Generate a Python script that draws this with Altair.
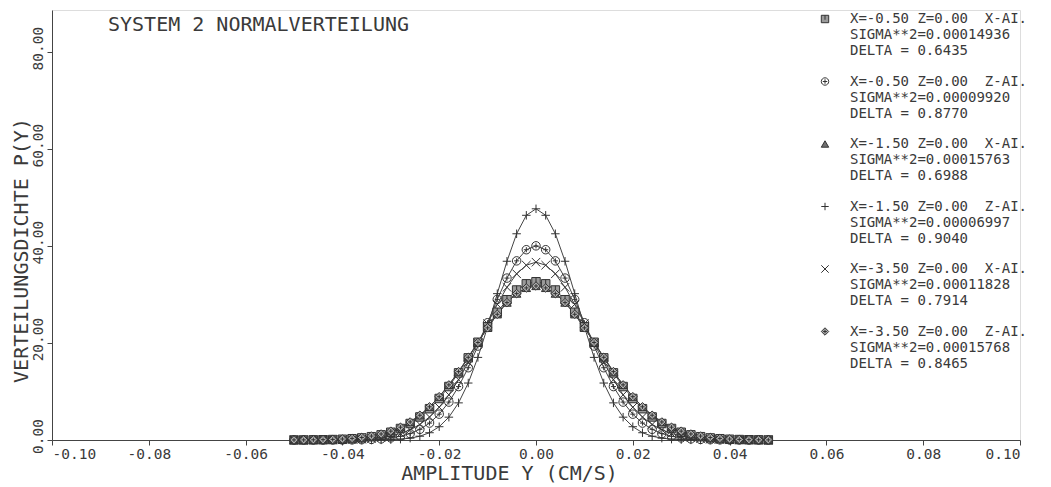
import altair as alt
import pandas as pd

# x positions of the sampled points (CM/S)
x_vals = [-0.050, -0.048, -0.046, -0.044, -0.042, -0.040, -0.038, -0.036, -0.034, -0.032,
          -0.030, -0.028, -0.026, -0.024, -0.022, -0.020, -0.018, -0.016, -0.014, -0.012,
          -0.010, -0.008, -0.006, -0.004, -0.002, 0.000, 0.002, 0.004, 0.006, 0.008,
          0.010, 0.012, 0.014, 0.016, 0.018, 0.020, 0.022, 0.024, 0.026, 0.028,
          0.030, 0.032, 0.034, 0.036, 0.038, 0.040, 0.042, 0.044, 0.046, 0.048]

s1 = [0.01, 0.01, 0.03, 0.05, 0.09, 0.15, 0.26, 0.43, 0.68, 1.06, 1.60, 2.37, 3.40, 4.75, 6.46,
      8.56, 11.03, 13.85, 16.94, 20.16, 23.35, 26.35, 28.93, 30.94, 32.21, 32.64, 32.21, 30.94,
      28.93, 26.35, 23.35, 20.16, 16.94, 13.85, 11.03, 8.56, 6.46, 4.75, 3.40, 2.37, 1.60, 1.06,
      0.68, 0.43, 0.26, 0.15, 0.09, 0.05, 0.03, 0.01]
s2 = [0.00, 0.00, 0.00, 0.00, 0.01, 0.01, 0.03, 0.06, 0.12, 0.23, 0.43, 0.77, 1.33, 2.20, 3.49,
      5.33, 7.82, 11.02, 14.91, 19.38, 24.19, 29.01, 33.40, 36.95, 39.25, 40.05, 39.25, 36.95,
      33.40, 29.01, 24.19, 19.38, 14.91, 11.02, 7.82, 5.33, 3.49, 2.20, 1.33, 0.77, 0.43, 0.23,
      0.12, 0.06, 0.03, 0.01, 0.01, 0.00, 0.00, 0.00]
s3 = [0.01, 0.02, 0.04, 0.07, 0.12, 0.20, 0.33, 0.52, 0.81, 1.24, 1.83, 2.64, 3.72, 5.11, 6.85,
      8.94, 11.37, 14.11, 17.07, 20.13, 23.14, 25.94, 28.35, 30.21, 31.38, 31.78, 31.38, 30.21,
      28.35, 25.94, 23.14, 20.13, 17.07, 14.11, 11.37, 8.94, 6.85, 5.11, 3.72, 2.64, 1.83, 1.24,
      0.81, 0.52, 0.33, 0.20, 0.12, 0.07, 0.04, 0.02]
s4 = [0.00, 0.00, 0.00, 0.00, 0.00, 0.00, 0.00, 0.00, 0.01, 0.03, 0.08, 0.18, 0.38, 0.78, 1.50,
      2.74, 4.71, 7.66, 11.75, 17.04, 23.34, 30.19, 36.87, 42.54, 46.35, 47.69, 46.35, 42.54,
      36.87, 30.19, 23.34, 17.04, 11.75, 7.66, 4.71, 2.74, 1.50, 0.78, 0.38, 0.18, 0.08, 0.03,
      0.01, 0.00, 0.00, 0.00, 0.00, 0.00, 0.00, 0.00]
s5 = [0.00, 0.00, 0.00, 0.01, 0.02, 0.04, 0.08, 0.15, 0.28, 0.48, 0.82, 1.33, 2.11, 3.21, 4.74,
      6.76, 9.32, 12.43, 16.02, 19.96, 24.03, 27.98, 31.50, 34.28, 36.06, 36.68, 36.06, 34.28,
      31.50, 27.98, 24.03, 19.96, 16.02, 12.43, 9.32, 6.76, 4.74, 3.21, 2.11, 1.33, 0.82, 0.48,
      0.28, 0.15, 0.08, 0.04, 0.02, 0.01, 0.00, 0.00]
s6 = [0.01, 0.02, 0.04, 0.07, 0.12, 0.20, 0.33, 0.52, 0.81, 1.24, 1.83, 2.64, 3.72, 5.11, 6.85,
      8.94, 11.37, 14.11, 17.06, 20.12, 23.13, 25.93, 28.34, 30.20, 31.37, 31.77, 31.37, 30.20,
      28.34, 25.93, 23.13, 20.12, 17.06, 14.11, 11.37, 8.94, 6.85, 5.11, 3.72, 2.64, 1.83, 1.24,
      0.81, 0.52, 0.33, 0.20, 0.12, 0.07, 0.04, 0.02]

NB = "\u00a0"
labels = [
    "X=-0.50 Z=0.00 " + NB + "X-AI.|SIGMA**2=0.00014936|DELTA = 0.6435",
    "X=-0.50 Z=0.00 " + NB + "Z-AI.|SIGMA**2=0.00009920|DELTA = 0.8770",
    "X=-1.50 Z=0.00 " + NB + "X-AI.|SIGMA**2=0.00015763|DELTA = 0.6988",
    "X=-1.50 Z=0.00 " + NB + "Z-AI.|SIGMA**2=0.00006997|DELTA = 0.9040",
    "X=-3.50 Z=0.00 " + NB + "X-AI.|SIGMA**2=0.00011828|DELTA = 0.7914",
    "X=-3.50 Z=0.00 " + NB + "Z-AI.|SIGMA**2=0.00015768|DELTA = 0.8465",
]
series_vals = [s1, s2, s3, s4, s5, s6]

shapes = [
    "M-1,-1H1V1H-1Z M0,-1V0.2",
    "M-1,0A1,1,0,1,1,1,0A1,1,0,1,1,-1,0Z M-0.6,0H0.6 M0,-0.6V0.6",
    "triangle-up",
    "M-1,0H1M0,-1V1",
    "M-1,-1L1,1M-1,1L1,-1",
    "M0,-1L1,0L0,1L-1,0Z M-0.5,0H0.5M0,-0.5V0.5",
]
fills = ["#9a9a9a", "transparent", "#707070", "transparent", "transparent", "#b0b0b0"]

rows = []
for lab, vals in zip(labels, series_vals):
    for xv, yv in zip(x_vals, vals):
        rows.append({"s": lab, "x": xv, "p": yv})
df = pd.DataFrame(rows)

FONT = "DejaVu Sans Mono"
INK = "#3a3a3a"

legend = alt.Legend(
    title=None, orient="none", legendX=766, legendY=2,
    labelExpr="split(datum.label, '|')",
    labelFont=FONT, labelFontSize=14, labelColor=INK, labelLimit=400,
    labelBaseline="middle", labelOffset=18,
    symbolSize=55, symbolStrokeWidth=1, symbolStrokeColor=INK,
    rowPadding=16.5, padding=0,
)

xaxis = alt.Axis(
    values=[-0.10, -0.08, -0.06, -0.04, -0.02, 0.00, 0.02, 0.04, 0.06, 0.08, 0.10],
    labelExpr="replace(format(datum.value, '.2f'), '\u2212', '-')",
    labelFont=FONT, labelFontSize=14.5, labelColor=INK, labelPadding=2,
    tickSize=5, tickColor="#444", domainColor="#444", grid=False,
    titleFont=FONT, titleFontSize=20, titleFontWeight="normal", titleColor=INK,
    titleX=457, titleY=39, titleBaseline="alphabetic", titleAlign="center",
)
yaxis = alt.Axis(
    values=[0, 20, 40, 60, 80], format=".2f",
    labelFont=FONT, labelFontSize=14.5, labelColor=INK, labelPadding=2,
    labelAngle=270, labelAlign="center", labelBaseline="bottom", labelOffset=-4,
    tickSize=5, tickColor="#444", domainColor="#444", grid=False,
    titleFont=FONT, titleFontSize=20, titleFontWeight="normal", titleColor=INK,
    titleX=-31, titleY=240, titleAngle=270, titleAlign="center", titleBaseline="middle",
)

xenc = alt.X("x:Q", scale=alt.Scale(domain=[-0.1, 0.1], nice=False, zero=False),
             axis=xaxis, title="AMPLITUDE Y (CM/S)")
yenc = alt.Y("p:Q", scale=alt.Scale(domain=[0, 88.7], nice=False),
             axis=yaxis, title="VERTEILUNGSDICHTE P(Y)")

lines = alt.Chart(df).mark_line(color="#444", strokeWidth=1).encode(
    x=xenc, y=yenc, detail="s:N"
)
points = alt.Chart(df).mark_point(size=72, strokeWidth=1, opacity=1, filled=False).encode(
    x="x:Q", y="p:Q",
    shape=alt.Shape("s:N", scale=alt.Scale(domain=labels, range=shapes), legend=legend),
    fill=alt.Fill("s:N", scale=alt.Scale(domain=labels, range=fills), legend=legend),
    stroke=alt.Stroke("s:N", scale=alt.Scale(domain=labels, range=["#333"] * 6), legend=legend),
)

chart = alt.layer(lines, points).properties(
    width=968, height=430,
    autosize=alt.AutoSizeParams(type="none"),
    padding={"left": 44, "top": 2, "right": 19, "bottom": 45},
    title=alt.TitleParams(
        "SYSTEM 2 NORMALVERTEILUNG", orient="none", anchor="start", frame="group",
        dx=56, dy=21, offset=0,
        baseline="alphabetic", font=FONT, fontSize=20, fontWeight="normal", color=INK,
    ),
).configure_view(stroke=None).configure(background="white")

chart.save("out.html", embed_options={"renderer": "svg", "actions": False})
